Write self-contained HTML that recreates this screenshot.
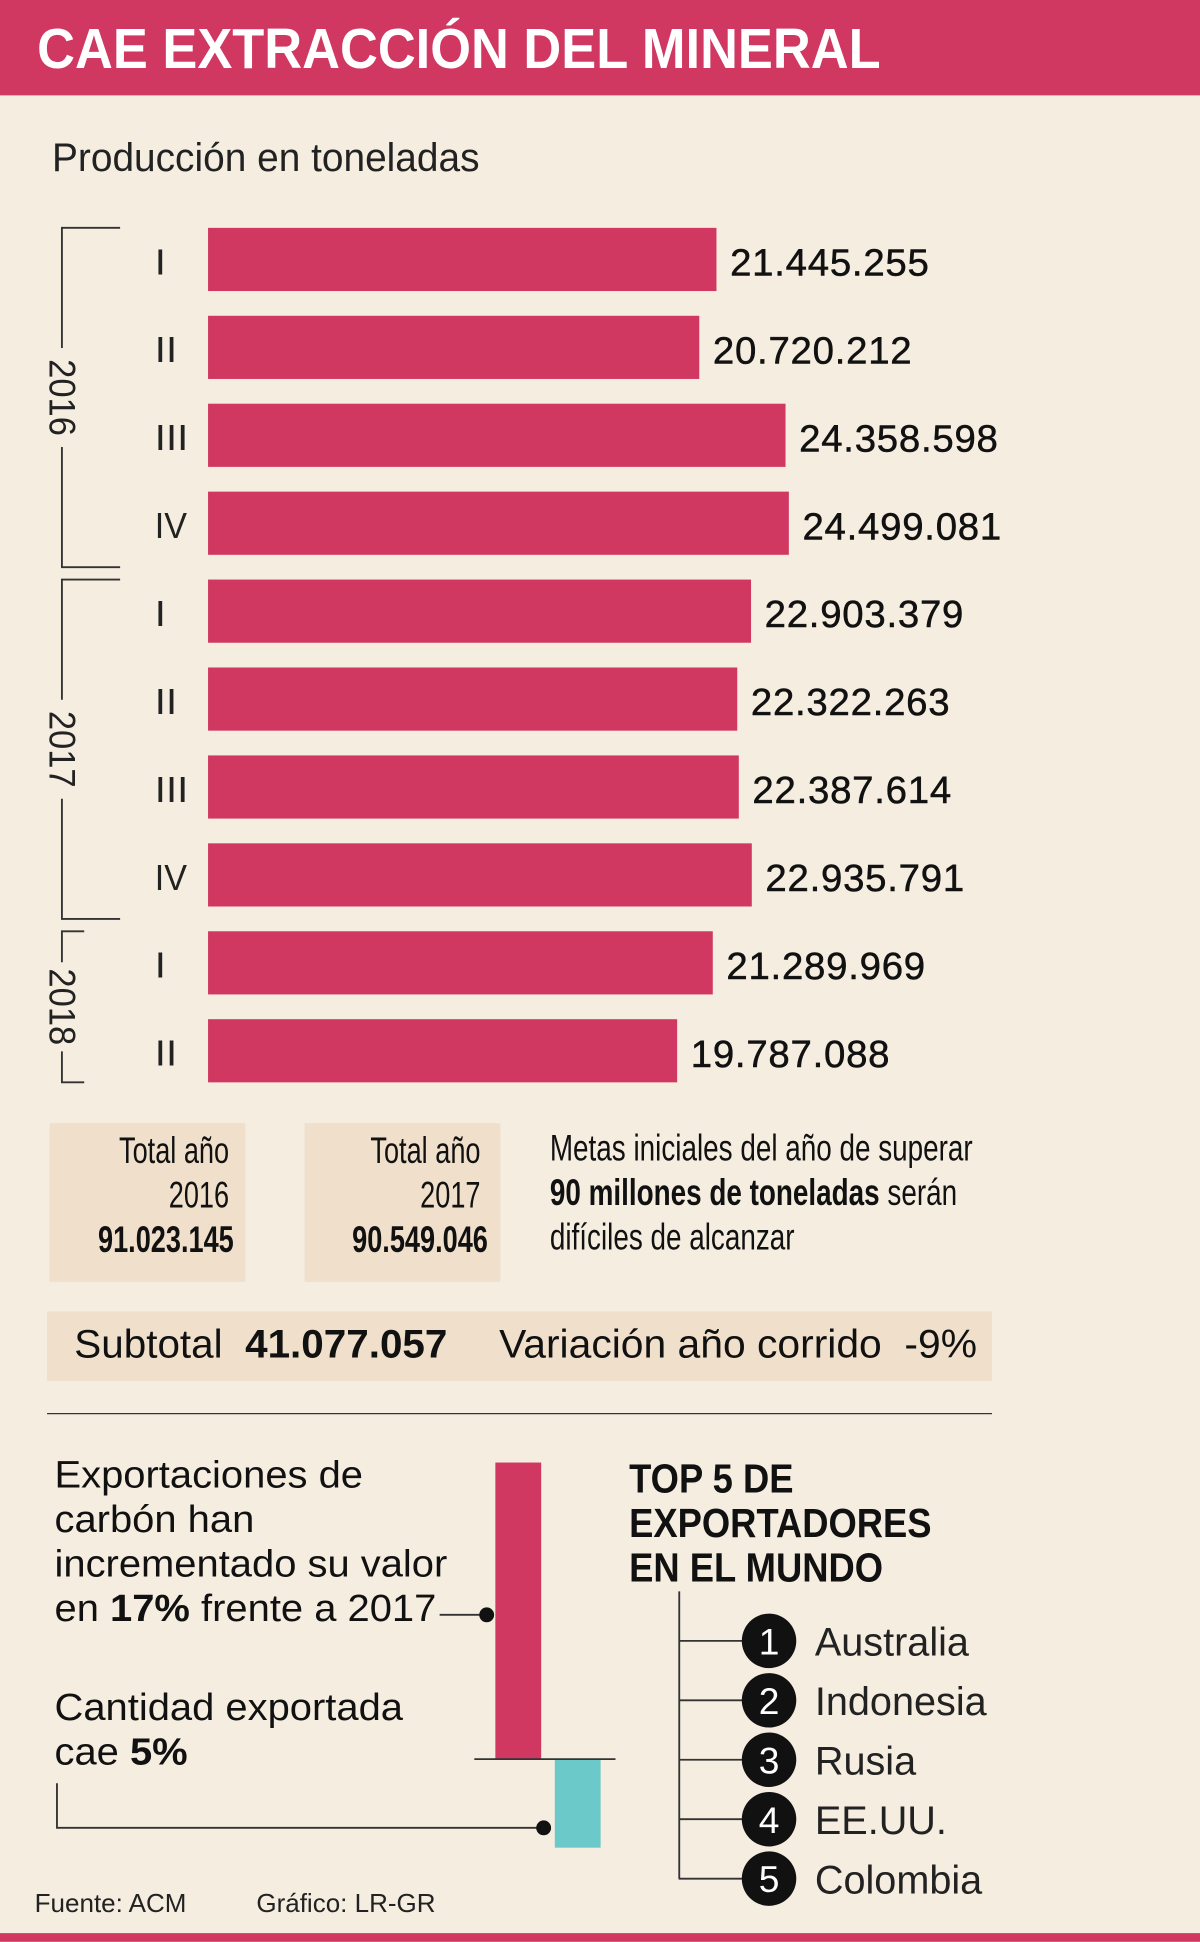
<!DOCTYPE html>
<html><head><meta charset="utf-8">
<style>
html,body{margin:0;padding:0;width:1200px;height:1941px;overflow:hidden;background:#f5ede0;}
#wrap{position:absolute;left:0;top:0;width:969px;height:1568px;transform:scale(1.23839);transform-origin:0 0;font-family:"Liberation Sans",sans-serif;color:#111;}
.abs{position:absolute;white-space:nowrap;}
</style></head><body>
<div id="wrap">
 <div class="abs" style="left:0;top:0;width:969px;height:77px;background:#d03761;"></div>
 <div class="abs" style="left:30px;top:12px;color:#fff;font-weight:bold;font-size:46px;transform:scaleX(0.92);transform-origin:0 0;">CAE EXTRACCIÓN DEL MINERAL</div>
 <div class="abs" style="left:42px;top:109px;font-size:32px;color:#222;transform:scaleX(0.98);transform-origin:0 0;">Producción en toneladas</div>

 <svg id="chart" class="abs" style="left:0;top:0" width="969" height="900"></svg>

 <div class="abs" style="left:40px;top:907px;width:158px;height:128px;background:#efdfcb;"></div>
 <div class="abs" style="left:40px;top:912px;width:145px;text-align:right;font-size:30px;line-height:36px;transform:scaleX(0.73);transform-origin:145px 0;">Total año<br>2016<br><b>91.023.145</b></div>
 <div class="abs" style="left:246px;top:907px;width:158px;height:128px;background:#efdfcb;"></div>
 <div class="abs" style="left:246px;top:912px;width:142px;text-align:right;font-size:30px;line-height:36px;transform:scaleX(0.73);transform-origin:142px 0;">Total año<br>2017<br><b>90.549.046</b></div>
 <div class="abs" style="left:444px;top:910px;font-size:30px;line-height:36px;transform:scaleX(0.75);transform-origin:0 0;">Metas iniciales del año de superar<br><b>90 millones de toneladas</b> serán<br>difíciles de alcanzar</div>

 <div class="abs" style="left:38px;top:1059px;width:763px;height:56px;background:#efdfcb;"></div>
 <div class="abs" style="left:60px;top:1067px;font-size:32px;transform:scaleX(1.02);transform-origin:0 0;">Subtotal&nbsp; <b>41.077.057</b></div>
 <div class="abs" style="left:403px;top:1067px;font-size:32px;transform:scaleX(1.03);transform-origin:0 0;">Variación año corrido&nbsp; -9%</div>
 <div class="abs" style="left:38px;top:1141px;width:763px;height:1px;background:#333;"></div>

 <div class="abs" style="left:44px;top:1173px;font-size:31px;line-height:36px;transform:scaleX(1.04);transform-origin:0 0;">Exportaciones de<br>carbón han<br>incrementado su valor<br>en <b>17%</b> frente a 2017</div>
 <div class="abs" style="left:44px;top:1361px;font-size:31px;line-height:36px;transform:scaleX(1.04);transform-origin:0 0;">Cantidad exportada<br>cae <b>5%</b></div>
 <svg class="abs" style="left:0;top:1140px" width="969" height="420">
  <rect x="400" y="41" width="37" height="239" fill="#d03761"/>
  <rect x="448" y="280" width="37" height="72" fill="#6cc9c9"/>
  <line x1="383" y1="280.5" x2="497" y2="280.5" stroke="#333" stroke-width="1.5"/>
  <line x1="355" y1="164" x2="393" y2="164" stroke="#333" stroke-width="1.5"/>
  <circle cx="393" cy="164" r="6" fill="#111"/>
  <polyline points="46,300 46,336 439,336" fill="none" stroke="#333" stroke-width="1.5"/>
  <circle cx="439" cy="336" r="6" fill="#111"/>
 </svg>

 <div class="abs" style="left:508px;top:1176px;font-size:33px;line-height:36px;font-weight:bold;transform:scaleX(0.89);transform-origin:0 0;">TOP 5 DE<br>EXPORTADORES<br>EN EL MUNDO</div>
 <svg class="abs" style="left:0;top:1280px" width="969" height="260">
  <line x1="548.5" y1="5" x2="548.5" y2="237" stroke="#333" stroke-width="1.5"/>
  <g id="top5"></g>
 </svg>

 <div class="abs" style="left:28px;top:1526px;font-size:21px;color:#222;">Fuente: ACM</div>
 <div class="abs" style="left:207px;top:1526px;font-size:21px;color:#222;">Gráfico: LR-GR</div>
 <div class="abs" style="left:0;top:1561px;width:969px;height:7px;background:#d03761;"></div>
</div>
<script>
const quarters = ["I","II","III","IV","I","II","III","IV","I","II"];
const values = [21445255,20720212,24358598,24499081,22903379,22322263,22387614,22935791,21289969,19787088];
const valueLabels = ["21.445.255","20.720.212","24.358.598","24.499.081","22.903.379","22.322.263","22.387.614","22.935.791","21.289.969","19.787.088"];
const years = ["2016","2017","2018"];
const yearStart = [0,4,8];
const yearEnd = [3,7,9];
const countries = ["Australia","Indonesia","Rusia","EE.UU.","Colombia"];

const NS="http://www.w3.org/2000/svg";
const svg=document.getElementById('chart');
const x0=168, maxV=24499081, maxW=469;
const xScale=v=>v/maxV*maxW;
const yTop=i=>184+i*71;
const bh=51;
function mk(tag,attrs){const e=document.createElementNS(NS,tag);for(const k in attrs)e.setAttribute(k,attrs[k]);return e;}
function q_len(s){return s.length*9+ (s.indexOf('V')>=0?8:0);}
values.forEach((v,i)=>{
  const r=mk('rect',{x:x0,y:yTop(i),width:xScale(v),height:bh,fill:'#d03761'});
  
  
  svg.appendChild(r);
  const t=mk('text',{x:x0+xScale(v)+11,y:yTop(i)+bh/2+13,'font-size':31,'font-family':'Liberation Sans, sans-serif',fill:'#111','letter-spacing':0.6,stroke:'#111','stroke-width':0.4});
  t.textContent=valueLabels[i];
  
  
  svg.appendChild(t);
  const q=mk('text',{x:125,y:yTop(i)+bh/2+12,'font-size':29,'font-family':'Liberation Sans, sans-serif',fill:'#222','textLength':q_len(quarters[i]),'lengthAdjust':'spacingAndGlyphs'});
  q.textContent=quarters[i];
  
  
  svg.appendChild(q);
});
years.forEach((y,k)=>{
  const top=yTop(yearStart[k]), bot=yTop(yearEnd[k])+bh+(k==2?0:10);
  const tick=k==2?68:97;
  const mid=(top+bot)/2;
  const g=mk('g',{stroke:'#333','stroke-width':1.5,fill:'none'});
  
  
  const half=k==2?36:40;
  g.appendChild(mk('polyline',{points:`${tick},${top} 50,${top} 50,${mid-half}`}));
  g.appendChild(mk('polyline',{points:`50,${mid+half} 50,${bot} ${tick},${bot}`}));
  svg.appendChild(g);
  const t=mk('text',{x:0,y:0,'font-size':30,'font-family':'Liberation Sans, sans-serif',fill:'#222','text-anchor':'middle',transform:`translate(40,${mid}) rotate(90)`,textLength:62,lengthAdjust:'spacingAndGlyphs'});
  t.textContent=y;
  
  
  svg.appendChild(t);
});
const tg=document.getElementById('top5');
countries.forEach((c,i)=>{
  const cy=45+i*48;
  tg.appendChild(mk('line',{x1:548,y1:cy,x2:600,y2:cy,stroke:'#333','stroke-width':1.5}));
  const circ=mk('circle',{cx:621,cy:cy,r:22,fill:'#111'});
  
  
  tg.appendChild(circ);
  const n=mk('text',{x:621,y:cy+11,'font-size':30,'font-family':'Liberation Sans, sans-serif',fill:'#fff','text-anchor':'middle'});
  n.textContent=String(i+1);
  tg.appendChild(n);
  const t=mk('text',{x:658,y:cy+12,'font-size':32,'font-family':'Liberation Sans, sans-serif',fill:'#222'});
  t.textContent=c;
  
  
  tg.appendChild(t);
});
</script>
</body></html>
